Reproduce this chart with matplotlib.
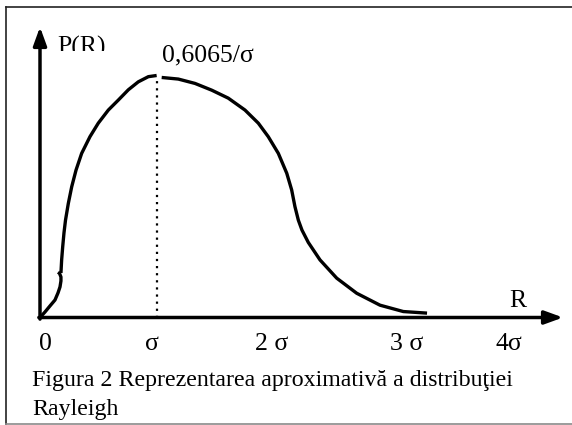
import matplotlib
matplotlib.use("Agg")
import matplotlib.pyplot as plt
from matplotlib.lines import Line2D
from matplotlib.transforms import Bbox, TransformedBbox

plt.rcParams['font.family'] = ['Liberation Serif', 'DejaVu Serif']

# hand drawn curve, x in sigma units, y = P(R)
hook_x = [0.000, 0.043, 0.085, 0.128, 0.154, 0.171, 0.179, 0.179, 0.167, 0.154]
hook_y = [0.000, 0.014, 0.029, 0.044, 0.062, 0.077, 0.092, 0.102, 0.111, 0.114]

rise_x = [0.179, 0.185, 0.194, 0.205, 0.218, 0.242, 0.271, 0.308, 0.356,
          0.427, 0.498, 0.584, 0.669, 0.755, 0.840, 0.926, 0.997]
rise_y = [0.112, 0.145, 0.178, 0.213, 0.245, 0.287, 0.329, 0.371, 0.413,
          0.455, 0.489, 0.522, 0.547, 0.573, 0.593, 0.606, 0.609]

fall_x = [1.040, 1.182, 1.325, 1.468, 1.609, 1.752, 1.866, 1.951, 2.037,
          2.109, 2.151, 2.179, 2.208, 2.239, 2.293, 2.393, 2.536, 2.707,
          2.906, 3.105, 3.308]
fall_y = [0.604, 0.600, 0.589, 0.572, 0.552, 0.522, 0.489, 0.455, 0.413,
          0.363, 0.321, 0.279, 0.245, 0.220, 0.189, 0.145, 0.099, 0.061,
          0.031, 0.015, 0.011]

peak_x = 1.0
peak_y = 0.604
peak_label = "0,6065/σ"

tick_pos = [0.047, 0.957, 1.983, 3.137, 4.009]
tick_labels = ["0", "σ", "2 σ", "3 σ", "4σ"]

caption = ["Figura 2 Reprezentarea aproximativă a distribuţiei", "Rayleigh"]

fig = plt.figure(figsize=(5.72, 4.25), dpi=100)
ax = fig.add_axes([0, 0, 1, 1])
ax.set_xlim(-40 / 117, 532 / 117)
ax.set_ylim(-107.5 / 397.4, 317.5 / 397.4)
ax.axis("off")

# frame around the figure
fig.add_artist(Line2D([0.0105, 0.0105], [0.0035, 0.9835], color="#222222", lw=1.2))
fig.add_artist(Line2D([0.0105, 1.0], [0.9835, 0.9835], color="#222222", lw=1.2))
fig.add_artist(Line2D([0.0105, 1.0], [0.0035, 0.0035], color="#8a8a8a", lw=1.2))

# axes with arrows
arrow = dict(arrowstyle="-|>,head_length=1.1,head_width=0.4", lw=2.5,
             color="black", shrinkA=0, shrinkB=0, mutation_scale=10)
ax.annotate("", xy=(4.47, 0), xytext=(-0.01, 0), arrowprops=arrow)
ax.annotate("", xy=(0, 0.731), xytext=(0, -0.004), arrowprops=arrow)

for xs, ys in [(hook_x, hook_y), (rise_x, rise_y), (fall_x, fall_y)]:
    ax.plot(xs, ys, color="black", lw=2.4, solid_capstyle="butt",
            solid_joinstyle="round")

ax.plot([peak_x, peak_x], [0, peak_y], color="black", lw=1.6,
        linestyle=(0, (1, 2.2)))

ax.text(1.043, 0.6455, peak_label, fontsize=18.5, va="baseline", ha="left")

pr = ax.text(0.145, 0.663, "P(R)", fontsize=18.5, va="baseline", ha="left")
pr.set_clip_box(TransformedBbox(Bbox.from_extents(0.1, 0.6694, 1.0, 0.79),
                                ax.transData))
pr.set_clip_on(True)

ax.text(4.009, 0.0264, "R", fontsize=18.5, va="baseline", ha="left")

for pos, lab in zip(tick_pos, tick_labels):
    ax.text(pos, -0.0818, lab, fontsize=18.5, va="baseline", ha="center")

ax.text(-0.0684, -0.1724, caption[0], fontsize=17.2, va="baseline", ha="left")
ax.text(-0.0684, -0.2453, caption[1], fontsize=17.2, va="baseline", ha="left")

fig.savefig("out.png", dpi=100)
